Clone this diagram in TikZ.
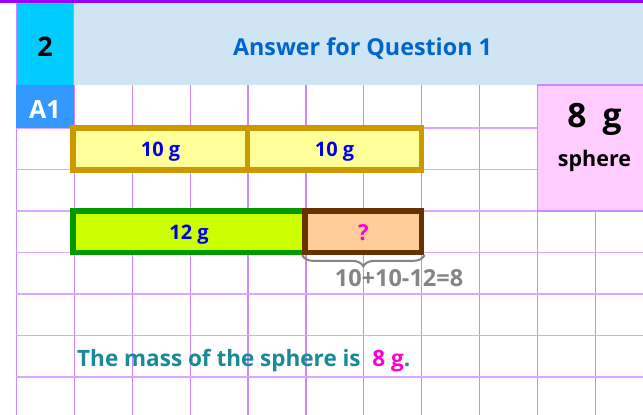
\documentclass[tikz,border=0pt]{standalone}
\usepackage{fontspec}
\setmainfont{Open Sans}
\usetikzlibrary{decorations.pathreplacing}
\definecolor{gridv}{HTML}{CC88FF}
\definecolor{gridh}{HTML}{DDA6FF}
\definecolor{topbar}{HTML}{9900FF}
\definecolor{cyancell}{HTML}{00CCFF}
\definecolor{hdrblue}{HTML}{CFE5F3}
\definecolor{titleblue}{HTML}{0066CC}
\definecolor{aone}{HTML}{3399FF}
\definecolor{pinkcell}{HTML}{FFCCFF}
\definecolor{ybfill}{HTML}{FFFF99}
\definecolor{ybdraw}{HTML}{CC9900}
\definecolor{gbfill}{HTML}{CCFF00}
\definecolor{gbdraw}{HTML}{009900}
\definecolor{bbfill}{HTML}{FFCC99}
\definecolor{bbdraw}{HTML}{663300}
\definecolor{lblblue}{HTML}{0000EE}
\definecolor{mag}{HTML}{FF00CC}
\definecolor{eqgray}{HTML}{858585}
\definecolor{teal}{HTML}{1A8A99}
\begin{document}
\begin{tikzpicture}[x=1pt,y=-1pt,
  vline/.style={draw=gridv,line width=1.2pt},
  hline/.style={draw=gridh,line width=1.8pt},
  cell/.style={rectangle,inner sep=0pt,outer sep=0pt,anchor=north west},
  txt/.style={inner sep=0pt,anchor=base},
  barbox/.style={rectangle,inner sep=0pt,line width=5.6pt},
  ybox/.style={barbox,fill=ybfill,draw=ybdraw},
  gbox/.style={barbox,fill=gbfill,draw=gbdraw},
  bbox/.style={barbox,fill=bbfill,draw=bbdraw},
  barlbl/.style={txt,font=\bfseries\fontsize{20}{24}\selectfont,text=lblblue},
  bracestyle/.style={draw=eqgray,line width=2pt,line cap=round,decorate,decoration={brace,mirror,amplitude=11pt}}
]
\useasboundingbox (0,0) rectangle (643,415);
\fill[white] (0,0) rectangle (643,415);
% grid
\foreach \i in {0,...,10} \draw[vline] ({16.4+57.9*\i},85) -- ({16.4+57.9*\i},415);
\foreach \y in {128,169.5,211,252.5,294,335.5,377} \draw[hline] (16.4,\y) -- (643,\y);
% header
\fill[topbar] (0,0) rectangle (643,3.3);
\node[cell,fill=cyancell,draw=gridv,line width=0.8pt,minimum width=57.4pt,minimum height=81.7pt] (numcell) at (16.4,3.3) {};
\node[txt,font=\bfseries\fontsize{27}{30}\selectfont] (num) at (45,56) {2};
\node[cell,fill=hdrblue,minimum width=569.2pt,minimum height=81.7pt] (titlecell) at (73.8,3.3) {};
\node[txt,font=\bfseries\fontsize{23.3}{28}\selectfont,text=titleblue] (title) at (362.5,55) {Answer for Question 1};
\node[cell,fill=aone,minimum width=57.4pt,minimum height=43pt] (a1cell) at (16.4,85) {};
\node[txt,font=\bfseries\fontsize{25}{28}\selectfont,text=white] (a1) at (45,118.3) {A1};
% answer cell
\node[cell,fill=pinkcell,draw=gridv,line width=1.2pt,minimum width=108pt,minimum height=126pt] (ans) at (537.3,85) {};
\node[txt,font=\bfseries\fontsize{33.5}{38}\selectfont] (eightg) at (594.5,127.3) {8\hspace{0.22em} g};
\node[txt,font=\bfseries\fontsize{21.5}{26}\selectfont] (sph) at (594.5,166.5) {sphere};
% bars
\node[ybox,minimum width=174.5pt,minimum height=41.5pt] (y1) at (160.5,149) {};
\node[ybox,minimum width=174pt,minimum height=41.5pt] (y2) at (334.5,149) {};
\node[gbox,minimum width=232pt,minimum height=41.5pt] (g1) at (189,231.8) {};
\node[bbox,minimum width=116.5pt,minimum height=41.5pt] (q) at (363.3,231.8) {};
\node[barlbl] (y1t) at ([yshift=-7.2pt]y1.center) {10 g};
\node[barlbl] (y2t) at ([yshift=-7.2pt]y2.center) {10 g};
\node[barlbl] (g1t) at ([yshift=-7.6pt]g1.center) {12 g};
\node[txt,font=\bfseries\fontsize{22}{26}\selectfont,text=mag] (qt) at ([yshift=-8.5pt]q.center) {?};
% brace
\draw[bracestyle] (q.south west) -- (q.south east);
\node[txt,font=\bfseries\fontsize{23.5}{28}\selectfont,text=eqgray] (eq) at (399,286) {10+10-12=8};
% sentence
\node[anchor=base west,inner sep=0pt,font=\bfseries\fontsize{22.5}{26}\selectfont,text=teal] (sent) at (77,366.5)
  {The mass of the sphere is\ \ \textcolor{mag}{8 g}.};
\end{tikzpicture}
\end{document}
